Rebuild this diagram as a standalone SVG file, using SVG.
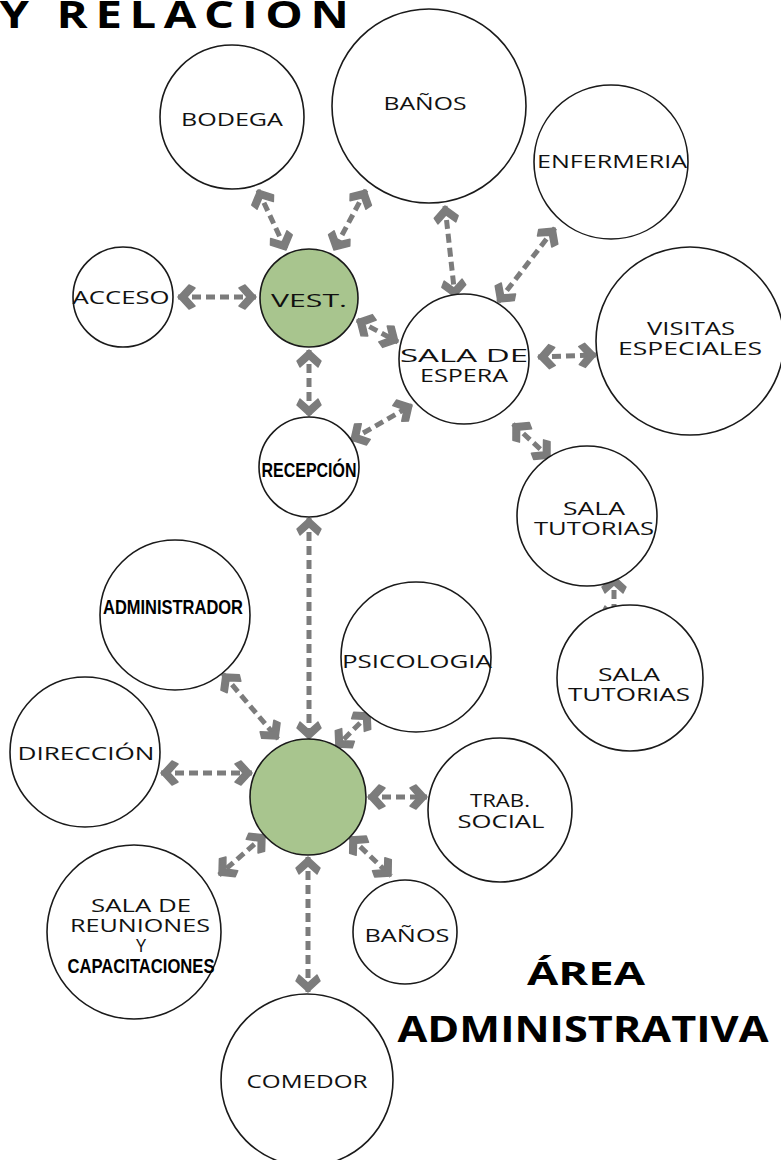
<svg xmlns="http://www.w3.org/2000/svg" width="781" height="1160" viewBox="0 0 781 1160">
<defs>
<style>
.n{fill:#fff;stroke:#1a1a1a;stroke-width:1.6}
.g{fill:#a8c58e;stroke:#1a1a1a;stroke-width:1.6}
.t{font-family:"Open Sans","DejaVu Sans",sans-serif;font-size:18px;fill:#111;text-anchor:middle}
.b{font-family:"Liberation Sans Narrow","Liberation Sans",sans-serif;font-weight:bold;font-size:21px;fill:#000;text-anchor:middle}
.h{font-family:"Open Sans","DejaVu Sans",sans-serif;font-weight:bold;fill:#000;text-anchor:middle}
.c{fill:none;stroke:#7c7c7c;stroke-width:5;stroke-dasharray:9 5;marker-start:url(#ah);marker-end:url(#ah)}
</style>
<marker id="ah" viewBox="-19 -15 21 30" refX="0" refY="0" markerWidth="21" markerHeight="30" markerUnits="userSpaceOnUse" orient="auto-start-reverse">
<path d="M0,0 L-11,-12 L-17,-9 L-9,0 L-17,9 L-11,12 Z" fill="#7c7c7c" stroke="#7c7c7c" stroke-width="1.5" stroke-linejoin="round"/>
</marker>
</defs>
<text class="h" x="178" y="28" font-size="37" letter-spacing="6" textLength="357" lengthAdjust="spacingAndGlyphs">Y RELACION</text>
<g id="connectors">
<line class="c" x1="178" y1="297" x2="256" y2="297"/>
<line class="c" x1="258" y1="190" x2="286" y2="250"/>
<line class="c" x1="366" y1="190" x2="334" y2="250"/>
<line class="c" x1="357" y1="320" x2="398" y2="342"/>
<line class="c" x1="445" y1="206" x2="455" y2="297"/>
<line class="c" x1="555" y1="228" x2="498" y2="302"/>
<line class="c" x1="538" y1="357" x2="596" y2="355"/>
<line class="c" x1="309" y1="350" x2="309" y2="416"/>
<line class="c" x1="351" y1="440" x2="412" y2="405"/>
<line class="c" x1="513" y1="424" x2="550" y2="458"/>
<line class="c" x1="614" y1="576" x2="614" y2="623"/>
<line class="c" x1="309" y1="518" x2="309" y2="739"/>
<line class="c" x1="223" y1="674" x2="278" y2="739"/>
<line class="c" x1="370" y1="713" x2="336" y2="747"/>
<line class="c" x1="161" y1="773" x2="252" y2="773"/>
<line class="c" x1="368" y1="797" x2="427" y2="797"/>
<line class="c" x1="265" y1="835" x2="219" y2="875"/>
<line class="c" x1="350" y1="837" x2="391" y2="876"/>
<line class="c" x1="308" y1="857" x2="308" y2="992"/>
</g>
<g id="bodega"><circle class="n" cx="232" cy="117" r="72"/><text class="t" x="232" y="126" textLength="102" lengthAdjust="spacingAndGlyphs">BODEGA</text></g>
<g id="banos1"><circle class="n" cx="429" cy="106" r="97"/><text class="t" x="425" y="110" textLength="83" lengthAdjust="spacingAndGlyphs">BAÑOS</text></g>
<g id="enfermeria"><circle class="n" cx="611" cy="162" r="77"/><text class="t" x="612" y="168" textLength="150" lengthAdjust="spacingAndGlyphs">ENFERMERIA</text></g>
<g id="acceso"><circle class="n" cx="123" cy="297" r="50"/><text class="t" x="121" y="304" textLength="97" lengthAdjust="spacingAndGlyphs">ACCESO</text></g>
<g id="vest"><circle class="g" cx="309" cy="298" r="49"/><text class="t" x="309" y="307" font-size="24" textLength="76" lengthAdjust="spacingAndGlyphs">VEST.</text></g>
<g id="sala-espera"><circle class="n" cx="464" cy="359" r="65"/><text class="t" x="464" y="362" font-size="21" textLength="128" lengthAdjust="spacingAndGlyphs">SALA DE</text><text class="t" x="464" y="382" font-size="21" textLength="88" lengthAdjust="spacingAndGlyphs">ESPERA</text></g>
<g id="visitas"><circle class="n" cx="690" cy="341" r="94"/><text class="t" x="691" y="335" textLength="88" lengthAdjust="spacingAndGlyphs">VISITAS</text><text class="t" x="690" y="355" textLength="144" lengthAdjust="spacingAndGlyphs">ESPECIALES</text></g>
<g id="recepcion"><circle class="n" cx="309" cy="467" r="50"/><text class="b" x="309" y="477" textLength="95" lengthAdjust="spacingAndGlyphs">RECEPCIÓN</text></g>
<g id="tutorias1"><circle class="n" cx="587" cy="516" r="70"/><text class="t" x="594" y="515" textLength="62" lengthAdjust="spacingAndGlyphs">SALA</text><text class="t" x="594" y="535" textLength="120" lengthAdjust="spacingAndGlyphs">TUTORIAS</text></g>
<g id="tutorias2"><circle class="n" cx="630" cy="678" r="73"/><text class="t" x="629" y="681" textLength="62" lengthAdjust="spacingAndGlyphs">SALA</text><text class="t" x="629" y="701" textLength="122" lengthAdjust="spacingAndGlyphs">TUTORIAS</text></g>
<g id="administrador"><circle class="n" cx="175" cy="615" r="75"/><text class="b" x="173" y="614" textLength="140" lengthAdjust="spacingAndGlyphs">ADMINISTRADOR</text></g>
<g id="psicologia"><circle class="n" cx="416" cy="657" r="75"/><text class="t" x="417" y="668" textLength="150" lengthAdjust="spacingAndGlyphs">PSICOLOGIA</text></g>
<g id="direccion"><circle class="n" cx="85" cy="752" r="75"/><text class="t" x="86" y="760" textLength="137" lengthAdjust="spacingAndGlyphs">DIRECCIÓN</text></g>
<g id="admin-center"><circle class="g" cx="308" cy="797" r="58"/></g>
<g id="trab-social"><circle class="n" cx="500" cy="810" r="72"/><text class="t" x="500" y="807" textLength="60" lengthAdjust="spacingAndGlyphs">TRAB.</text><text class="t" x="501" y="828" textLength="87" lengthAdjust="spacingAndGlyphs">SOCIAL</text></g>
<g id="sala-reuniones"><circle class="n" cx="134" cy="932" r="87"/><text class="t" x="141" y="912" textLength="100" lengthAdjust="spacingAndGlyphs">SALA DE</text><text class="t" x="140" y="932" textLength="140" lengthAdjust="spacingAndGlyphs">REUNIONES</text><text class="t" x="141" y="952">Y</text><text class="b" x="141" y="973" font-size="20" textLength="147" lengthAdjust="spacingAndGlyphs">CAPACITACIONES</text></g>
<g id="banos2"><circle class="n" cx="405" cy="932" r="52"/><text class="t" x="407" y="942" textLength="85" lengthAdjust="spacingAndGlyphs">BAÑOS</text></g>
<g id="comedor"><circle class="n" cx="307" cy="1080" r="86"/><text class="t" x="307" y="1088" textLength="121" lengthAdjust="spacingAndGlyphs">COMEDOR</text></g>
<text class="h" x="586" y="985" font-size="33" textLength="118" lengthAdjust="spacingAndGlyphs">ÁREA</text>
<text class="h" x="583" y="1042" font-size="35" textLength="371" lengthAdjust="spacingAndGlyphs">ADMINISTRATIVA</text>
</svg>
